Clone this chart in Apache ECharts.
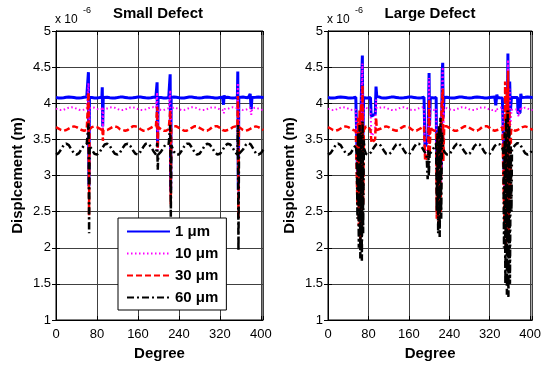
<!DOCTYPE html>
<html><head><meta charset="utf-8">
<script src="https://cdn.jsdelivr.net/npm/echarts@6/dist/echarts.min.js"></script>
<style>html,body{margin:0;padding:0;background:#fff}#c{width:544px;height:368px}</style>
</head><body><div id="c"></div>
<script>
const seriesNames = ['1 μm', '10 μm', '30 μm', '60 μm'];
const panelTitles = ['Small Defect', 'Large Defect'];
const xTickLabels = [0, 80, 160, 240, 320, 400];
const yTickLabels = [1, 1.5, 2, 2.5, 3, 3.5, 4, 4.5, 5];

const degrees = [0,5,10,15,20,25,30,35,40,45,50,55,60,65,70,75,80,85,90,95,100,105,110,115,120,125,130,135,140,145,150,155,160,165,170,175,180,185,190,195,200,205,210,215,220,225,230,235,240,245,250,255,260,265,270,275,280,285,290,295,300,305,310,315,320,325,330,335,340,345,350,355,360,365,370,375,380,385,390,395,400,405];

const base1um = [4.078,4.074,4.072,4.076,4.082,4.086,4.084,4.079,4.074,4.073,4.077,4.083,4.086,4.083,4.078,4.074,4.073,4.078,4.084,4.086,4.082,4.077,4.073,4.074,4.079,4.085,4.086,4.081,4.076,4.073,4.075,4.080,4.085,4.085,4.080,4.075,4.073,4.076,4.082,4.086,4.084,4.078,4.074,4.074,4.078,4.084,4.086,4.082,4.077,4.073,4.074,4.080,4.085,4.085,4.080,4.075,4.073,4.076,4.082,4.086,4.084,4.078,4.074,4.074,4.079,4.084,4.086,4.082,4.076,4.073,4.075,4.080,4.085,4.085,4.080,4.075,4.073,4.076,4.082,4.086,4.084,4.078];
const base10um = [3.926,3.912,3.905,3.910,3.925,3.939,3.945,3.939,3.925,3.910,3.905,3.912,3.926,3.940,3.945,3.938,3.923,3.909,3.905,3.913,3.928,3.941,3.945,3.937,3.921,3.908,3.905,3.914,3.929,3.942,3.944,3.935,3.920,3.908,3.906,3.915,3.931,3.943,3.944,3.934,3.918,3.907,3.906,3.917,3.932,3.943,3.943,3.932,3.917,3.906,3.907,3.918,3.934,3.944,3.943,3.931,3.915,3.906,3.908,3.920,3.935,3.944,3.942,3.929,3.914,3.905,3.908,3.921,3.937,3.945,3.941,3.928,3.913,3.905,3.909,3.923,3.938,3.945,3.940,3.926,3.912,3.905];
const base30um = [3.67,3.65,3.63,3.62,3.63,3.65,3.67,3.68,3.67,3.65,3.63,3.62,3.63,3.65,3.67,3.68,3.67,3.65,3.63,3.62,3.63,3.65,3.67,3.68,3.67,3.64,3.63,3.62,3.63,3.66,3.68,3.68,3.67,3.64,3.62,3.62,3.64,3.66,3.68,3.68,3.66,3.64,3.62,3.62,3.64,3.66,3.68,3.68,3.66,3.64,3.62,3.62,3.64,3.66,3.68,3.68,3.66,3.64,3.62,3.62,3.64,3.67,3.68,3.68,3.66,3.63,3.62,3.63,3.64,3.67,3.68,3.67,3.65,3.63,3.62,3.63,3.65,3.67,3.68,3.67,3.65,3.63];
const base60um = [3.29,3.31,3.36,3.42,3.44,3.42,3.36,3.31,3.29,3.31,3.37,3.42,3.44,3.42,3.36,3.30,3.29,3.32,3.38,3.43,3.44,3.41,3.35,3.30,3.29,3.32,3.38,3.43,3.44,3.41,3.35,3.30,3.29,3.33,3.39,3.44,3.44,3.40,3.34,3.29,3.29,3.33,3.39,3.44,3.44,3.39,3.33,3.29,3.29,3.34,3.40,3.44,3.44,3.39,3.33,3.29,3.30,3.35,3.41,3.44,3.43,3.38,3.32,3.29,3.30,3.35,3.41,3.44,3.43,3.38,3.32,3.29,3.30,3.36,3.42,3.45,3.43,3.37,3.31,3.29,3.31,3.36];

// Small defect disturbances: [degree, value] groups
const smallSpikes1um = [
  [[62.5,4.08],[63.3,4.43],[64.3,2.85],[65.3,4.08]],
  [[89.5,4.08],[90.3,4.22],[91.2,3.68],[92.2,4.08]],
  [[196.5,4.08],[197.3,4.29],[198.3,3.4],[199.3,4.08]],
  [[222,4.08],[222.8,4.4],[223.8,2.8],[224.8,4.08]],
  [[326,4.08],[327,3.98],[328,4.11],[329,4.08]],
  [[354,4.08],[354.8,4.44],[355.8,2.8],[356.8,4.08]],
  [[378,4.08],[379,4.13],[381,3.92],[382.5,4.08]]
];
const smallSpikes10um = [
  [[62.5,3.93],[63.4,4.28],[64.4,2.65],[65.4,3.93]],
  [[89.5,3.92],[90.5,3.95],[91.4,3.62],[92.4,3.92]],
  [[196.5,3.92],[197.4,4.15],[198.4,3.35],[199.4,3.92]],
  [[222,3.92],[222.9,4.18],[223.9,2.7],[224.9,3.92]],
  [[326,3.92],[327.5,3.86],[329,3.92]],
  [[354,3.93],[354.9,4.28],[355.9,2.6],[356.9,3.93]],
  [[379,3.94],[381,3.84],[383,3.93]]
];
const smallSpikes30um = [
  [[62.5,3.63],[63.5,4.15],[64.5,2.45],[65.5,3.64]],
  [[89.5,3.63],[90.6,3.66],[91.5,3.48],[92.5,3.63]],
  [[196.5,3.67],[197.5,3.95],[198.5,3.37],[199.5,3.67]],
  [[222,3.64],[223,3.9],[224,2.6],[225,3.65]],
  [[354,3.67],[355,4.1],[356,2.4],[357,3.67]]
];
const smallSpikes60um = [
  [[62.5,3.42],[63.6,3.72],[64.6,2.2],[65.6,3.41]],
  [[196.5,3.29],[197.6,3.45],[198.6,3.08],[199.6,3.29]],
  [[222,3.43],[223.1,3.7],[224.1,2.43],[225.1,3.42]],
  [[354,3.29],[355.1,3.7],[356.1,1.96],[357.1,3.3]]
];

// Large defect disturbances
const largeSpikes1um = [
  [[57.5,4.08],[58.5,3.0],[63,3.2],[67,4.4],[68,4.66],[69,3.5],[70.5,4.08]],
  [[84,4.08],[85.5,3.82],[93.5,3.85],[95,4.23],[96.5,4.1],[98,4.08]],
  [[191,4.08],[192,3.4],[198,3.5],[200,4.42],[201,3.7],[202.5,4.08]],
  [[214,4.08],[215,3.2],[224,3.1],[226,4.45],[227,4.56],[228,3.8],[229.5,4.08]],
  [[331,4.08],[332,3.97],[334,4.12],[335.5,4.08]],
  [[348,4.08],[349,3.0],[354,3.2],[356,4.69],[357,3.4],[359.5,4.3],[361,3.9],[363,4.08]],
  [[375,4.08],[376,3.86],[380,3.87],[381.5,4.13],[383,4.08]]
];
const largeSpikes10um = [
  [[57.5,3.93],[58.6,2.9],[63.1,3.1],[67.1,4.3],[68.1,4.55],[69.1,3.3],[70.6,3.93]],
  [[84,3.91],[86,3.55],[93,3.6],[95,4.05],[96.5,3.93]],
  [[191,3.92],[192.1,3.3],[198.1,3.4],[200.1,4.35],[201.1,3.5],[202.6,3.92]],
  [[214,3.93],[215.1,3.0],[224.1,2.9],[226.1,4.4],[227.1,4.5],[228.1,3.5],[229.6,3.93]],
  [[331,3.92],[333,3.88],[335,3.92]],
  [[348,3.94],[349.1,2.8],[354.1,3.0],[356.1,4.6],[357.1,3.2],[359.6,4.2],[361.1,3.7],[363.1,3.91]],
  [[375,3.92],[377,3.82],[380,3.84],[381.6,3.95],[383,3.92]]
];
const largeSpikes30um = [
  [[57,3.63],[58.2,2.6],[59.5,3.8],[61,2.3],[62.5,3.9],[64,2.1],[65.5,4.0],[67,2.2],[68.3,4.25],[69.5,2.6],[71,3.7],[72,3.64]],
  [[84,3.63],[86.2,3.45],[93.2,3.5],[95.2,3.8],[96.6,3.63]],
  [[191,3.68],[192.2,3.2],[198.2,3.3],[200.2,4.05],[201.2,3.3],[202.7,3.68]],
  [[214,3.62],[215.2,2.4],[217,3.6],[219,2.3],[221,3.7],[223,2.5],[224.5,3.9],[226.2,4.1],[227.2,4.2],[228.2,3.2],[229.7,3.62]],
  [[348,3.68],[349.2,2.3],[350.5,4.3],[352,2.0],[353.5,4.2],[355,2.1],[356.2,4.45],[357.5,2.2],[359,3.9],[360.5,2.6],[362,3.6],[363.2,3.65]]
];
const largeSpikes60um = [
  [[57,3.29],[58.3,2.4],[59.5,3.6],[61,2.0],[62.5,3.7],[64,1.85],[65.5,3.6],[67,1.82],[68.4,3.75],[69.5,2.2],[71,3.5],[72,3.36]],
  [[196,3.29],[197.2,2.95],[198.5,3.35],[199.5,3.0],[201,3.3]],
  [[214,3.44],[215.3,2.5],[216.5,3.6],[218,2.2],[219.5,3.7],[221,2.15],[222.5,3.8],[224,2.4],[225.5,3.6],[227,3.42]],
  [[347,3.32],[348.3,2.0],[349.5,3.6],[351,1.5],[352.5,3.8],[354,1.35],[355.5,3.9],[357,1.32],[358.5,3.7],[360,1.5],[361.5,3.4],[363,2.5],[364,3.36]]
];

function build(base, groups) {
  const ranges = groups.map(g => [g[0][0], g[g.length - 1][0]]);
  const pts = [];
  degrees.forEach((d, i) => {
    if (!ranges.some(r => d >= r[0] && d <= r[1])) pts.push([d, base[i]]);
  });
  groups.forEach(g => g.forEach(p => pts.push(p)));
  pts.sort((a, b) => a[0] - b[0]);
  return pts;
}

const FONT = '"Liberation Sans", Arial, sans-serif';
const lineStyles = [
  {color: '#0000ff', width: 3, type: 'solid'},
  {color: '#ff00ff', width: 2, type: [1.5, 2.5]},
  {color: '#ff0000', width: 2.5, type: [6, 3]},
  {color: '#000000', width: 2.5, type: [7, 3, 2, 3]}
];
const bases = [base1um, base10um, base30um, base60um];
const smallGroups = [smallSpikes1um, smallSpikes10um, smallSpikes30um, smallSpikes60um];
const largeGroups = [largeSpikes1um, largeSpikes10um, largeSpikes30um, largeSpikes60um];

const gridsPos = [{left: 56, top: 31, width: 207, height: 289}, {left: 328, top: 31, width: 207, height: 289}];

const xAxes = [], yAxes = [], series = [];
gridsPos.forEach((g, gi) => {
  xAxes.push({
    type: 'value', gridIndex: gi, min: 0, max: 404, interval: 80,
    axisLine: {show: true, lineStyle: {color: '#000', width: 1}},
    axisTick: {show: true, inside: true, length: 4, lineStyle: {color: '#000'}},
    axisLabel: {fontSize: 13, color: '#000', fontFamily: FONT, margin: 8,
      formatter: v => (xTickLabels.indexOf(v) >= 0 ? String(v) : '')},
    splitLine: {show: true, lineStyle: {color: '#404040', width: 1}},
    name: 'Degree', nameLocation: 'middle', nameGap: 25,
    nameTextStyle: {fontSize: 15, fontWeight: 'bold', color: '#000', fontFamily: FONT}
  });
  xAxes.push({
    type: 'value', gridIndex: gi, min: 0, max: 404, interval: 80, position: 'top',
    axisLine: {show: true, lineStyle: {color: '#000'}},
    axisTick: {show: true, inside: true, length: 4, lineStyle: {color: '#000'}},
    axisLabel: {show: false}, splitLine: {show: false}
  });
  yAxes.push({
    type: 'value', gridIndex: gi, min: 1, max: 5, interval: 0.5,
    axisLine: {show: true, lineStyle: {color: '#000', width: 1}},
    axisTick: {show: true, inside: true, length: 4, lineStyle: {color: '#000'}},
    axisLabel: {fontSize: 13, color: '#000', fontFamily: FONT, margin: 5,
      formatter: v => (yTickLabels.indexOf(v) >= 0 ? String(v) : '')},
    splitLine: {show: true, lineStyle: {color: '#404040', width: 1}},
    name: 'Displcement (m)', nameLocation: 'middle', nameGap: 31, nameRotate: 90,
    nameTextStyle: {fontSize: 15, fontWeight: 'bold', color: '#000', fontFamily: FONT}
  });
  yAxes.push({
    type: 'value', gridIndex: gi, min: 1, max: 5, interval: 0.5, position: 'right',
    axisLine: {show: true, lineStyle: {color: '#000'}},
    axisTick: {show: true, inside: true, length: 4, lineStyle: {color: '#000'}},
    axisLabel: {show: false}, splitLine: {show: false}
  });
  const groups = gi === 0 ? smallGroups : largeGroups;
  seriesNames.forEach((name, si) => {
    series.push({
      type: 'line', name, xAxisIndex: gi * 2, yAxisIndex: gi * 2,
      data: build(bases[si], groups[si]),
      showSymbol: false, symbol: 'none', animation: false, z: 3 + si,
      lineStyle: lineStyles[si], itemStyle: {color: lineStyles[si].color},
      emphasis: {disabled: true}
    });
  });
});

const graphics = [];
gridsPos.forEach((g, gi) => {
  graphics.push({type: 'text', x: g.left + 102, y: 6, style: {text: panelTitles[gi], font: 'bold 15px ' + FONT, fill: '#000', align: 'center', verticalAlign: 'top'}});
  graphics.push({type: 'text', x: g.left - 1, y: 14, style: {text: 'x 10', font: '12px ' + FONT, fill: '#000', align: 'left', verticalAlign: 'top'}});
  graphics.push({type: 'text', x: g.left + 27, y: 6, style: {text: '-6', font: '9px ' + FONT, fill: '#000', align: 'left', verticalAlign: 'top'}});
});

const chart = echarts.init(document.getElementById('c'), null, {renderer: 'canvas'});
chart.setOption({
  backgroundColor: '#fff',
  animation: false,
  grid: gridsPos.map(g => Object.assign({show: true, borderColor: '#000', borderWidth: 1, backgroundColor: 'transparent'}, g)),
  xAxis: xAxes,
  yAxis: yAxes,
  series,
  legend: {
    data: seriesNames, orient: 'vertical', left: 118, top: 218, z: 20,
    itemWidth: 43, itemHeight: 14, itemGap: 5,
    itemStyle: {opacity: 0},
    padding: [5, 8, 4, 8], borderColor: '#000', borderWidth: 1, backgroundColor: '#fff',
    textStyle: {fontSize: 15, fontWeight: 'bold', color: '#000', fontFamily: FONT, lineHeight: 17},
    selectedMode: false
  },
  graphic: graphics
});
</script>
</body></html>
